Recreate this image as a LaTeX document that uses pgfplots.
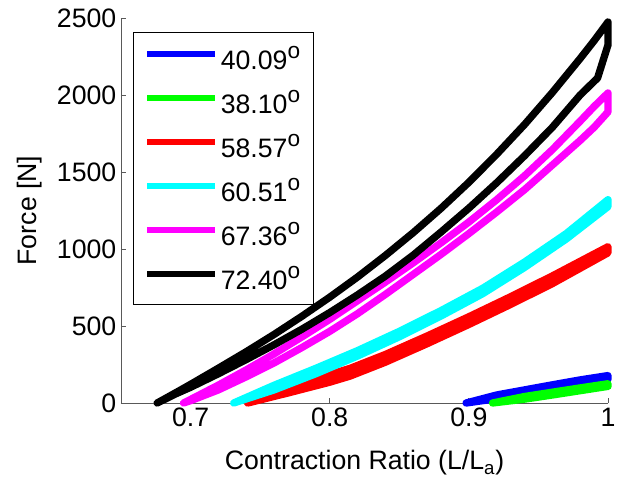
\documentclass[border=0pt]{standalone}
\usepackage{fontspec}
\setmainfont{Liberation Sans}
\usepackage{pgfplots}
\pgfplotsset{compat=1.18}
\definecolor{cB}{RGB}{0,0,255}
\definecolor{cG}{RGB}{0,255,0}
\definecolor{cR}{RGB}{255,0,0}
\definecolor{cC}{RGB}{0,255,255}
\definecolor{cM}{RGB}{255,0,255}
\definecolor{cK}{RGB}{0,0,0}
\newcommand{\dg}{\raisebox{0.42em}{\fontsize{17}{20}\selectfont o}}
\begin{document}
\begin{tikzpicture}
\begin{axis}[
  name=ax,
  scale only axis,
  width=365.25pt, height=288.75pt,
  xmin=0.65, xmax=1, ymin=0, ymax=2500,
  axis lines*=left,
  axis line style={black!65, line width=0.6pt},
  tick style={black!65, line width=0.6pt},
  major tick length=3.75pt,
  tick align=inside,
  xtick={0.7,0.8,0.9,1},
  xticklabels={0.7,0.8,0.9,1},
  ytick={0,500,1000,1500,2000,2500},
  yticklabels={0,500,1000,1500,2000,2500},
  tick label style={font=\fontsize{20}{24}\selectfont},
  label style={font=\fontsize{20}{24}\selectfont},
  xlabel={Contraction Ratio (L/L\textsubscript{a})},
  ylabel={Force [N]},
  xlabel style={at={(axis description cs:0.5,-0.174)}, anchor=base},
  ylabel style={at={(axis description cs:-0.1725,0.5)}, anchor=base},
  clip=false,
  every axis plot/.append style={line width=5.5pt, line cap=round, line join=round},
  legend cell align=left,
  legend image code/.code={\draw[#1, line width=4.5pt, line cap=butt] (0pt,3.5pt) -- (51pt,3.5pt);},
  legend style={at={(axis description cs:0.0246,0.9636)}, anchor=north west,
    draw=black, line width=0.75pt, inner xsep=8pt, inner ysep=8pt,
    font=\fontsize{20}{24}\selectfont, row sep=10pt,
    nodes={inner sep=2pt}},
]
\addplot[cB] coordinates {(0.898,0)(0.92,52)(0.94,85)(0.96,118)(0.98,150)(1.0,178)(1.0,155)(0.98,125)(0.96,93)(0.94,60)(0.92,28)(0.898,0)};
\addlegendentry{40.09\dg}
\addplot[cG] coordinates {(0.917,0)(0.94,42)(0.96,70)(0.98,98)(1.0,125)(1.0,108)(0.98,80)(0.96,52)(0.94,25)(0.917,0)};
\addlegendentry{38.10\dg}
\addplot[cR] coordinates {(0.741,0)(0.77,105)(0.80,185)(0.8147,225)(0.84,315)(0.87,435)(0.90,560)(0.93,690)(0.96,825)(1.0,1015)(1.0,975)(0.96,775)(0.93,640)(0.90,510)(0.87,385)(0.84,265)(0.8147,175)(0.80,135)(0.77,65)(0.741,0)};
\addlegendentry{58.57\dg}
\addplot[cC] coordinates {(0.731,0)(0.76,115)(0.79,225)(0.82,340)(0.85,465)(0.88,600)(0.91,745)(0.94,915)(0.97,1100)(1.0,1320)(1.0,1275)(0.97,1065)(0.94,880)(0.91,710)(0.88,565)(0.85,430)(0.82,305)(0.79,190)(0.76,85)(0.731,0)};
\addlegendentry{60.51\dg}
\addplot[cM] coordinates {(0.695,0)(0.70,23)(0.72,116)(0.74,215)(0.76,319)(0.78,429)(0.80,543)(0.82,664)(0.84,785)(0.86,910)(0.88,1040)(0.90,1175)(0.92,1320)(0.94,1475)(0.96,1645)(0.98,1830)(0.99,1925)(1.0,2013)(1.0,1890)(0.99,1790)(0.98,1705)(0.96,1545)(0.94,1385)(0.92,1240)(0.90,1100)(0.88,965)(0.86,835)(0.84,705)(0.82,580)(0.80,465)(0.78,360)(0.76,260)(0.74,170)(0.72,85)(0.70,15)(0.695,0)};
\addlegendentry{67.36\dg}
\addplot[cK] coordinates {(0.676,0)(0.69,70)(0.70,121)(0.72,226)(0.74,333)(0.76,445)(0.78,563)(0.80,687)(0.82,818)(0.84,958)(0.86,1106)(0.88,1264)(0.90,1433)(0.92,1615)(0.94,1808)(0.96,2016)(0.98,2237)(0.99,2352)(1.0,2474)(1.0,2325)(0.9925,2110)(0.98,2000)(0.96,1790)(0.94,1605)(0.92,1430)(0.90,1265)(0.88,1110)(0.86,960)(0.84,824)(0.82,702)(0.80,587)(0.78,479)(0.76,378)(0.74,282)(0.72,190)(0.70,102)(0.69,62)(0.676,0)};
\addlegendentry{72.40\dg}
\end{axis}
\pgfresetboundingbox
\path ([xshift=-90.75pt,yshift=-58.5pt]ax.south west) rectangle ([xshift=12pt,yshift=13.5pt]ax.north east);
\end{tikzpicture}
\end{document}
